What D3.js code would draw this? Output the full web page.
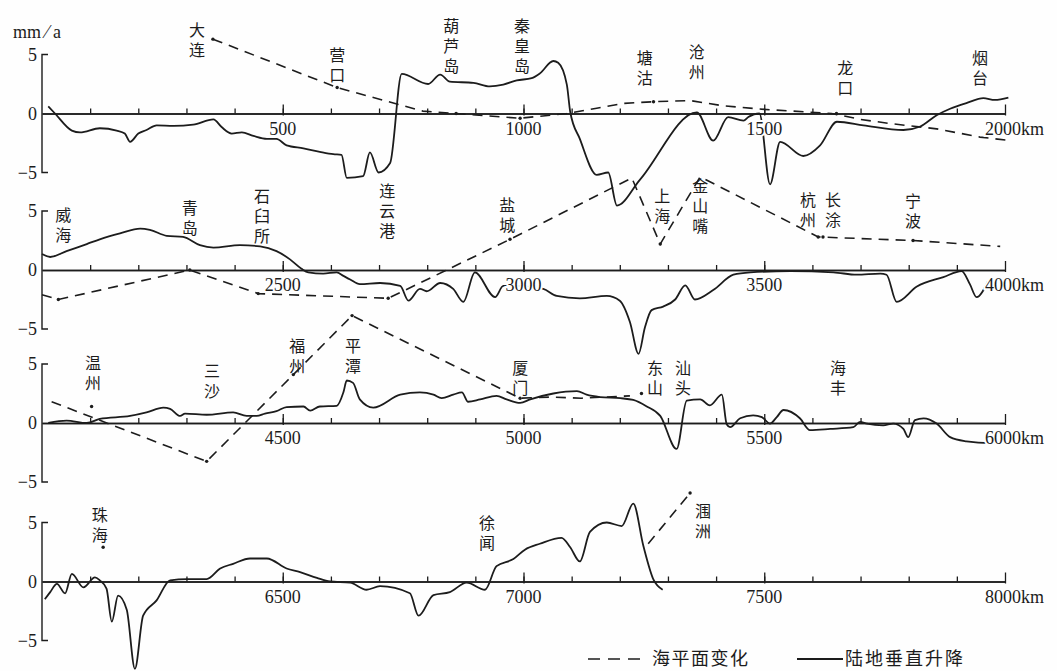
<!DOCTYPE html>
<html>
<head>
<meta charset="utf-8">
<script src="https://cdn.jsdelivr.net/npm/d3@7"></script>
<style>
body { margin: 0; background: #fff; }
svg { display: block; }
</style>
</head>
<body>
<script>
// 每段岸线 2000 km
const panelStarts = [0, 2000, 4000, 6000];

// 陆地垂直升降 (km, mm/a)
const land1 = [[13,0.6],[27,0],[62,-1.45],[79,-1.6],[120,-1.25],[155,-1.45],[172,-1.7],[183,-2.4],[200,-1.7],[217,-1.4],[238,-1.0],[273,-1.05],[314,-0.95],[356,-0.5],[373,-1.15],[394,-1.7],[415,-1.6],[439,-1.9],[467,-2.15],[487,-2.15],[508,-2.7],[543,-2.95],[577,-3.25],[605,-3.45],[622,-3.5],[633,-5.45],[667,-5.3],[681,-3.3],[699,-5.0],[723,-4.2],[747,3.35],[802,2.5],[827,3.3],[847,2.7],[896,2.6],[930,2.3],[958,2.45],[986,2.8],[1017,3.0],[1034,3.4],[1062,4.45],[1072,4.3],[1090,2.45],[1097,0.15],[1117,-2.15],[1152,-5.2],[1176,-5.0],[1194,-7.8],[1242,-5.6],[1360,0.1],[1394,-2.3],[1425,-0.3],[1457,-0.6],[1467,-0.3],[1490,0],[1512,-6.0],[1533,-2.4],[1581,-3.6],[1616,-2.7],[1651,-0.7],[1706,-1.0],[1789,-1.4],[1824,-1.1],[1858,-0.15],[1886,0.4],[1921,0.9],[1955,1.3],[1979,1.15],[2007,1.35]];
const land2 = [[2000,1.35],[2017,1.1],[2051,1.6],[2093,2.2],[2120,2.6],[2162,3.1],[2204,3.5],[2224,3.4],[2259,2.9],[2293,2.8],[2328,2.1],[2356,1.9],[2411,2.1],[2453,2.0],[2487,1.6],[2515,0.9],[2539,0.1],[2553,-0.2],[2584,-0.3],[2612,-0.2],[2626,-0.5],[2640,-0.8],[2660,-1.2],[2702,-1.1],[2744,-1.35],[2761,-2.6],[2785,-1.6],[2799,-1.8],[2827,-1.1],[2854,-1.6],[2875,-2.7],[2899,-0.2],[2941,-2.3],[2958,-1.35],[3000,-1.4],[3041,-1.6],[3069,-2.2],[3117,-2.4],[3173,-2.2],[3200,-2.6],[3221,-4.4],[3239,-7.1],[3252,-4.9],[3266,-3.4],[3290,-3.1],[3315,-2.5],[3336,-1.3],[3356,-2.5],[3394,-1.7],[3436,-0.4],[3471,-0.2],[3554,-0.1],[3644,-0.2],[3692,-0.4],[3741,-0.3],[3754,-0.4],[3775,-2.7],[3817,-1.4],[3872,-0.6],[3910,-0.1],[3927,-1.2],[3941,-2.3],[3964,-1.0]];
const land3 = [[4013,0],[4051,0.2],[4093,0],[4120,0.35],[4183,0.6],[4217,0.9],[4252,1.3],[4266,1.2],[4287,0.6],[4297,0.8],[4342,0.7],[4397,0.9],[4425,0.6],[4446,0.6],[4463,0.8],[4487,1.0],[4508,1.35],[4543,1.4],[4557,1.05],[4577,1.4],[4612,1.45],[4626,2.6],[4633,3.6],[4646,3.4],[4660,2.0],[4688,1.3],[4744,2.4],[4785,2.6],[4813,2.4],[4830,2.1],[4854,2.4],[4872,2.6],[4885,1.8],[4910,2.0],[4944,2.3],[4965,2.0],[4993,1.7],[5014,2.0],[5062,2.5],[5111,2.7],[5131,2.4],[5159,2.2],[5201,2.1],[5228,1.95],[5256,1.4],[5284,0.6],[5318,-2.2],[5339,1.9],[5367,2.0],[5387,1.5],[5412,2.4],[5422,-0.1],[5429,-0.35],[5450,0.4],[5477,0.65],[5495,0.5],[5512,-0.05],[5526,0.5],[5540,1.1],[5574,0.4],[5595,-0.6],[5637,-0.5],[5685,-0.35],[5699,0.1],[5713,-0.05],[5747,-0.2],[5768,-0.05],[5789,-0.5],[5799,-1.2],[5813,0.25],[5831,0.4],[5858,-0.05],[5886,-1.2],[5920,-1.55],[5969,-1.7],[6000,-1.65]];
const land4 = [[6006,-1.5],[6017,-0.9],[6031,-0.2],[6048,-1.0],[6062,0.65],[6086,-0.5],[6110,0.35],[6120,0.1],[6134,-0.6],[6145,-3.4],[6158,-1.2],[6176,-2.4],[6193,-7.4],[6210,-2.9],[6238,-1.6],[6266,0.1],[6301,0.2],[6342,0.2],[6370,1.1],[6397,1.5],[6432,1.95],[6467,1.95],[6508,1.1],[6536,0.8],[6571,0.3],[6598,0],[6640,-0.1],[6674,-0.7],[6702,-0.4],[6764,-1.0],[6782,-2.9],[6813,-1.15],[6847,-0.9],[6882,-0.1],[6920,-0.7],[6944,1.3],[6979,1.9],[7003,2.7],[7034,3.2],[7079,3.7],[7097,2.9],[7117,1.7],[7138,4.2],[7173,5.0],[7204,4.7],[7228,6.6],[7249,3.0],[7270,0.15],[7289,-0.7]];

// 海平面变化 (km, mm/a)
const sea1 = [[355,6.3],[613,2.2],[791,0.2],[860,0],[993,-0.4],[1090,0],[1152,0.45],[1207,0.85],[1270,1.0],[1346,1.1],[1415,0.65],[1500,0.35],[1640,0],[1700,-0.5],[1761,-0.85],[1858,-1.3],[1948,-2.0],[2012,-2.3]];
const sea2 = [[2000,-2.1],[2034,-2.5],[2307,0],[2449,-2.0],[2719,-2.4],[2972,2.6],[3225,7.8],[3284,2.2],[3367,7.9],[3612,2.8],[3809,2.5],[3990,2.0]];
const sea3 = [[4020,1.8],[4342,-3.25],[4522,4.1],[4644,9.1],[4993,2.1],[5060,2.2],[5120,2.1],[5221,2.3]];
const sea4 = [[7259,3.2],[7346,7.5]];

// 验潮站点
const seaDots = [[355,6.3],[613,2.2],[860,0],[993,-0.4],[1270,1.0],[1650,0],[2034,-2.5],[2307,0],[2449,-2.0],[2719,-2.4],[2972,2.6],[3284,2.2],[3612,2.8],[3622,2.8],[3809,2.5],[4103,1.4],[4342,-3.25],[4522,4.1],[4644,9.1],[4993,2.1],[5245,2.5],[6127,2.9],[7346,7.5]];

const cities = [["大连",322],["营口",613],["葫芦岛",850],["秦皇岛",997],["塘沽",1252],["沧州",1360],["龙口",1668],["烟台",1948],
  ["威海",2044],["青岛",2307],["石臼所",2457],["连云港",2717],["盐城",2966],["上海",3288],["金山嘴",3367],["杭州",3591],["长涂",3643],["宁波",3809],
  ["温州",4106],["三沙",4353],["福州",4530],["平潭",4646],["厦门",4993],["东山",5273],["汕头",5331],["海丰",5653],
  ["珠海",6120],["徐闻",6924],["涠洲",7373]];

const yTicks = [5, 0, -5];

const lands = [land1, land2, land3, land4];
const seas = [sea1, sea2, sea3, sea4];

// layout
const W = 1057, H = 671;
const zeroY = [113.5, 270, 423, 581.5];
const unit = 11.8;
const labelTop = {"大连":-92,"营口":-67,"葫芦岛":-96,"秦皇岛":-96,"塘沽":-64,"沧州":-70,"龙口":-54,"烟台":-64,
  "威海":-63,"青岛":-70,"石臼所":-82,"连云港":-87,"盐城":-73,"上海":-82,"金山嘴":-92,"杭州":-78,"长涂":-78,"宁波":-77,
  "温州":-68,"三沙":-60,"福州":-85,"平潭":-85,"厦门":-63,"东山":-63,"汕头":-63,"海丰":-63,
  "珠海":-75,"徐闻":-67,"涠洲":-79};
const ink = "#1c1c1c";
const serif = "'Liberation Serif', 'DejaVu Serif', serif";
const cjk = "'Noto Sans CJK SC', sans-serif";

const svg = d3.select("body").append("svg").attr("width", W).attr("height", H);
svg.append("rect").attr("width", W).attr("height", H).attr("fill", "#fefefe");

svg.append("text").attr("x", 13).attr("y", 38)
  .attr("font-family", serif).attr("font-size", 18).attr("fill", ink)
  .text("mm ⁄ a");

const scales = panelStarts.map((s, i) => ({
  x: d3.scaleLinear().domain([s, s + 2000]).range([42, 1005]),
  y: d3.scaleLinear().domain([-5, 5]).range([zeroY[i] + 5 * unit, zeroY[i] - 5 * unit])
}));

panelStarts.forEach((s, i) => {
  const { x, y } = scales[i];
  const g = svg.append("g");

  // y 轴 (括号形)
  g.append("path")
    .attr("d", `M48,${y(5)}H42V${y(-5)}H48`)
    .attr("fill", "none").attr("stroke", ink).attr("stroke-width", 1.4);
  g.selectAll(".yl").data(yTicks).join("text")
    .attr("x", 37).attr("y", d => y(d) + 6)
    .attr("text-anchor", "end")
    .attr("font-family", serif).attr("font-size", 18).attr("fill", ink)
    .text(d => d < 0 ? "−" + Math.abs(d) : d);

  // 零线 + 刻度
  const minor = d3.axisTop(x).tickValues(d3.range(s + 100, s + 2000, 100)).tickSize(5).tickSizeOuter(0).tickFormat("");
  const major = d3.axisTop(x).tickValues([s + 500, s + 1000, s + 1500, s + 2000]).tickSize(9).tickSizeOuter(0).tickFormat("");
  const ga = g.append("g").attr("transform", `translate(0,${y(0)})`).call(minor);
  const gb = g.append("g").attr("transform", `translate(0,${y(0)})`).call(major);
  [ga, gb].forEach(a => {
    a.select(".domain").attr("stroke", ink).attr("stroke-width", 1.5);
    a.selectAll(".tick line").attr("stroke", ink).attr("stroke-width", 1.3);
  });
  gb.selectAll(".tick line").attr("y2", -9).attr("y1", 2);
});

// 曲线
const lineOf = (i) => d3.line().x(d => scales[i].x(d[0])).y(d => scales[i].y(d[1]));

lands.forEach((data, i) => {
  svg.append("path")
    .attr("d", lineOf(i).curve(d3.curveMonotoneX)(data))
    .attr("fill", "none").attr("stroke", ink).attr("stroke-width", 1.8)
    .attr("stroke-linejoin", "round");
});

seas.forEach((data, i) => {
  svg.append("path")
    .attr("d", lineOf(i)(data))
    .attr("fill", "none").attr("stroke", ink).attr("stroke-width", 1.6)
    .attr("stroke-dasharray", "10,7");
});

const panelOf = km => Math.min(3, Math.floor(km / 2000));

svg.selectAll(".dot").data(seaDots).join("circle")
  .attr("cx", d => scales[panelOf(d[0])].x(d[0]))
  .attr("cy", d => scales[panelOf(d[0])].y(d[1]))
  .attr("r", 1.7).attr("fill", ink);

// 刻度数字
panelStarts.forEach((s, i) => {
  const { x, y } = scales[i];
  const vals = [s + 500, s + 1000, s + 1500, s + 2000];
  svg.selectAll(null).data(vals).join("text")
    .attr("x", (d, j) => j < 3 ? x(d) : x(d) - 20)
    .attr("y", y(0) + 21)
    .attr("text-anchor", (d, j) => j < 3 ? "middle" : "start")
    .attr("font-family", serif).attr("font-size", 18).attr("fill", ink)
    .attr("stroke", "#fefefe").attr("stroke-width", 4).attr("paint-order", "stroke")
    .text((d, j) => j < 3 ? d : d + "km");
});

// 站名 (竖排)
svg.selectAll(".city").data(cities).join("text")
  .attr("x", d => scales[panelOf(d[1])].x(d[1]))
  .attr("y", d => zeroY[panelOf(d[1])] + labelTop[d[0]])
  .attr("font-family", cjk).attr("font-size", 16).attr("fill", ink)
  .attr("letter-spacing", 4)
  .style("writing-mode", "vertical-rl")
  .style("text-orientation", "upright")
  .text(d => d[0]);

// 图例
const lg = svg.append("g");
lg.append("line").attr("x1", 588).attr("x2", 646).attr("y1", 659).attr("y2", 659)
  .attr("stroke", ink).attr("stroke-width", 1.6).attr("stroke-dasharray", "12,8");
lg.append("text").attr("x", 652).attr("y", 665)
  .attr("font-family", cjk).attr("font-size", 18).attr("letter-spacing", 1.5).attr("fill", ink)
  .text("海平面变化");
lg.append("line").attr("x1", 797).attr("x2", 843).attr("y1", 659).attr("y2", 659)
  .attr("stroke", ink).attr("stroke-width", 1.8);
lg.append("text").attr("x", 845).attr("y", 665)
  .attr("font-family", cjk).attr("font-size", 18).attr("letter-spacing", 2).attr("fill", ink)
  .text("陆地垂直升降");
</script>
</body>
</html>
